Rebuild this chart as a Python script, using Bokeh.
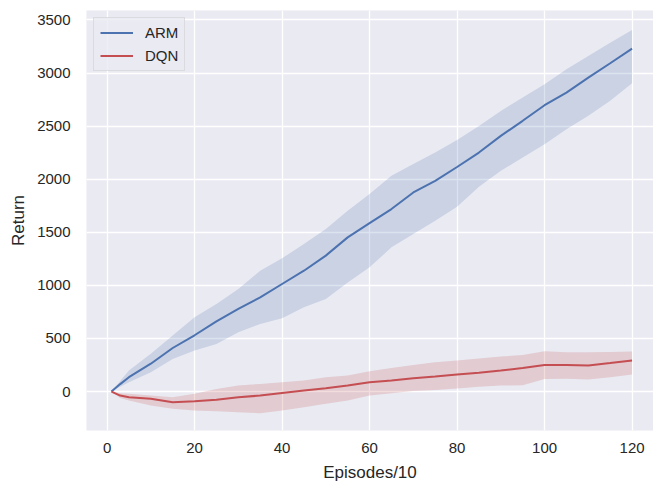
from bokeh.plotting import figure
from bokeh.models import Range1d, FixedTicker, Legend, LegendItem
from bokeh.embed import file_html
from bokeh.resources import INLINE

# ---- data ----
episodes = [1, 3, 5, 10, 15, 20, 25, 30, 35, 40, 45, 50, 55, 60, 65, 70, 75, 80, 85, 90, 95, 100, 105, 110, 115, 120]

arm_mean = [0, 70, 135, 262, 410, 530, 660, 778, 887, 1013, 1138, 1280, 1452, 1587, 1719, 1875, 1985, 2115, 2251, 2408, 2550, 2697, 2816, 2957, 3092, 3230]
arm_upper = [0, 100, 198, 355, 527, 700, 825, 966, 1138, 1255, 1390, 1531, 1703, 1860, 2032, 2142, 2251, 2370, 2502, 2643, 2769, 2895, 3036, 3161, 3286, 3406]
arm_lower = [0, 45, 88, 182, 307, 386, 448, 558, 637, 690, 793, 872, 1028, 1170, 1358, 1484, 1609, 1740, 1930, 2079, 2204, 2330, 2471, 2597, 2738, 2904]

dqn_mean = [0, -38, -53, -69, -100, -91, -78, -53, -38, -13, 9, 31, 56, 88, 105, 125, 142, 160, 178, 198, 222, 251, 250, 245, 268, 292]
dqn_upper = [0, -15, -22, -38, -53, -22, 25, 56, 72, 88, 103, 135, 150, 190, 222, 250, 275, 292, 310, 329, 345, 379, 370, 370, 372, 376]
dqn_lower = [0, -60, -85, -132, -163, -179, -185, -195, -204, -179, -148, -116, -85, -38, -15, 5, 15, 28, 45, 56, 60, 119, 120, 113, 135, 160]

x_ticks = [0, 20, 40, 60, 80, 100, 120]
y_ticks = [0, 500, 1000, 1500, 2000, 2500, 3000, 3500]

BLUE = "#4C72B0"
RED = "#C44E52"
TEXT = "#262626"
FONT = "Liberation Sans"

p = figure(width=653, height=486, output_backend="svg", toolbar_location=None,
           x_range=Range1d(-4.7, 124.9), y_range=Range1d(-367, 3589),
           min_border_left=86, min_border_right=0, min_border_top=10, min_border_bottom=56)
p.background_fill_color = "#EAEAF2"
p.border_fill_color = "white"
p.outline_line_color = None

p.xgrid.ticker = FixedTicker(ticks=x_ticks)
p.ygrid.ticker = FixedTicker(ticks=y_ticks)
p.grid.grid_line_color = "white"
p.grid.grid_line_width = 1.3

p.varea(x=episodes, y1=arm_lower, y2=arm_upper, fill_color=BLUE, fill_alpha=0.2)
p.varea(x=episodes, y1=dqn_lower, y2=dqn_upper, fill_color=RED, fill_alpha=0.2)
l_arm = p.line(episodes, arm_mean, line_color=BLUE, line_width=2)
l_dqn = p.line(episodes, dqn_mean, line_color=RED, line_width=2)

for ax in (p.xaxis[0], p.yaxis[0]):
    ax.axis_line_color = None
    ax.major_tick_line_color = None
    ax.minor_tick_line_color = None
    ax.major_tick_out = 0
    ax.major_tick_in = 0
    ax.major_label_text_font = FONT
    ax.major_label_text_font_size = "15px"
    ax.major_label_text_color = TEXT
    ax.axis_label_text_font = FONT
    ax.axis_label_text_font_size = "17px"
    ax.axis_label_text_font_style = "normal"
    ax.axis_label_text_color = TEXT

p.xaxis.ticker = FixedTicker(ticks=x_ticks)
p.yaxis.ticker = FixedTicker(ticks=y_ticks)
p.xaxis.axis_label = "Episodes/10"
p.yaxis.axis_label = "Return"
p.xaxis.major_label_standoff = 12
p.xaxis.axis_label_standoff = 7
p.yaxis.major_label_standoff = 16
p.yaxis.axis_label_standoff = 6

legend = Legend(items=[LegendItem(label="ARM", renderers=[l_arm]),
                       LegendItem(label="DQN", renderers=[l_dqn])],
                location="top_left")
legend.margin = 7
legend.padding = 6
legend.spacing = 6
legend.glyph_width = 33
legend.glyph_height = 17
legend.label_height = 17
legend.label_standoff = 12
legend.label_text_font = FONT
legend.label_text_font_size = "15px"
legend.label_text_color = TEXT
legend.background_fill_color = "#EAEAF2"
legend.background_fill_alpha = 0.8
legend.border_line_color = "#CCCCCC"
legend.border_line_width = 1
p.add_layout(legend)

open("out.html", "w").write(file_html(p, INLINE))
